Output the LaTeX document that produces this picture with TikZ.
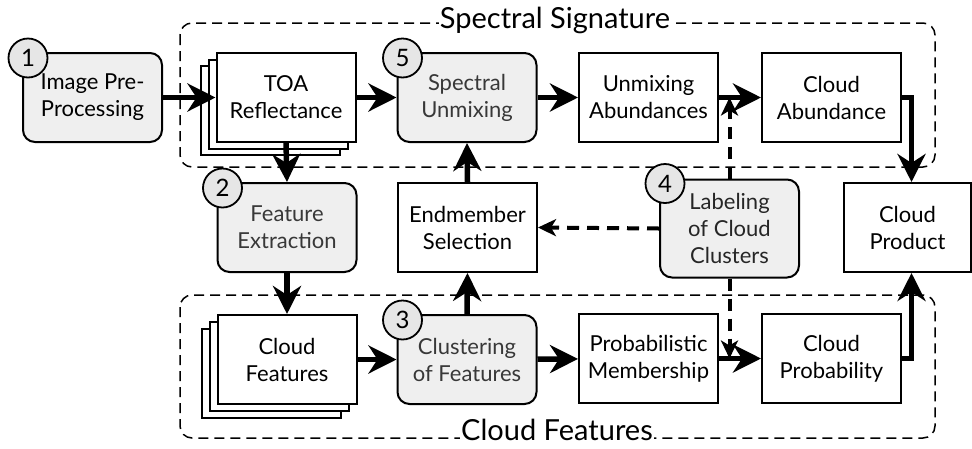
\documentclass[tikz,border=0pt]{standalone}
\usepackage{fontspec}
\setmainfont{Lato}
\usetikzlibrary{arrows.meta,calc}
\definecolor{boxgray}{HTML}{EFEFEF}
\definecolor{circgray}{HTML}{E6E6E6}
\definecolor{textgray}{HTML}{383838}
\begin{document}
\begin{tikzpicture}[x=1pt,y=-1pt,
  font=\fontsize{22}{27}\selectfont,
  plain/.style={draw, line width=2pt, fill=white, minimum width=139pt, minimum height=89pt, align=center, inner sep=0pt},
  proc/.style={plain, rounded corners=12pt, fill=boxgray, text=textgray},
  num/.style={circle, draw, line width=1.8pt, fill=circgray, minimum size=39pt, inner sep=0pt, text=black, font=\fontsize{24}{26}\selectfont},
  flow/.style={line width=5.5pt, -{Stealth[length=28pt,width=28pt,inset=9pt]}},
  hint/.style={line width=4pt, dash pattern=on 12pt off 8pt, -{Stealth[length=18pt,width=17pt,inset=5pt]}},
  region/.style={draw, line width=1.5pt, dash pattern=on 10pt off 6pt, rounded corners=12pt},
  title/.style={fill=white, inner sep=1pt, font=\fontsize{29}{32}\selectfont}]
\useasboundingbox (0,0) rectangle (972,448);

% regions
\draw[region] (180,23) rectangle (935,167);
\draw[region] (180,295) rectangle (935,438);
\node[title] (tsig) at (555,20) {Spectral Signature};
\node[title] (tcf) at (557,430) {Cloud Features};

% nodes
\node[proc, text=black] (pre) at (92.5,97.5) {Image Pre-\\Processing};
\node[plain] (toa3) at (270,110.5) {};
\node[plain] (toa2) at (278,104) {};
\node[plain] (toa) at (286,97.5) {TOA\\Reflectance};
\node[proc] (su) at (467,97.5) {Spectral\\Unmixing};
\node[plain] (ua) at (648.5,97.5) {Unmixing\\Abundances};
\node[plain] (ca) at (831.5,97.5) {Cloud\\Abundance};
\node[plain, minimum width=127pt] (cp) at (907.5,227.5) {Cloud\\Product};
\node[proc] (fe) at (287,227.5) {Feature\\Extraction};
\node[plain] (es) at (467.5,227.5) {Endmember\\Selection};
\node[proc, text=black!85] (lab) at (729.5,228.5) [minimum height=98pt] {Labeling\\of Cloud\\Clusters};
\node[plain] (cf3) at (271,373) {};
\node[plain] (cf2) at (279,366) {};
\node[plain] (cf) at (287,359.5) {Cloud\\Features};
\node[proc] (cl) at (467,359.5) {Clustering\\of Features};
\node[plain] (pm) at (648.5,358.5) {Probabilistic\\Membership};
\node[plain] (cpr) at (831.5,358.5) {Cloud\\Probability};

% step numbers
\node[num] (n1) at ($(pre.north west)+(6,6)$) {1};
\node[num] (n2) at ($(fe.north west)+(6,6)$) {2};
\node[num] (n3) at ($(cl.north west)+(6,6)$) {3};
\node[num] (n4) at ($(lab.north west)+(6,5)$) {4};
\node[num] (n5) at ($(su.north west)+(6,6)$) {5};

% flow arrows
\draw[flow] (pre) -- (toa);
\draw[flow] (toa) -- (su);
\draw[flow] (su) -- (ua);
\draw[flow] (ua) -- (ca);
\draw[flow] (ca.east) -| ([xshift=4pt]cp.north);
\draw[flow] (cpr.east) -| ([xshift=4pt]cp.south);
\draw[flow] (toa.south) -- (fe.north);
\draw[flow] (fe.south) -- (cf.north);
\draw[flow] (cf) -- (cl);
\draw[flow] (cl) -- (pm);
\draw[flow] (pm) -- (cpr);
\draw[flow] (cl.north) -- (es.south);
\draw[flow] (es.north) -- (su.south);

% dashed arrows
\coordinate (up) at (lab.north |- ua.east);
\coordinate (dn) at (lab.south |- pm.east);
\draw[hint] (lab.west) -- (es.east);
\draw[hint] (lab.north) -- (up);
\draw[hint] (lab.south) -- (dn);
\end{tikzpicture}
\end{document}
